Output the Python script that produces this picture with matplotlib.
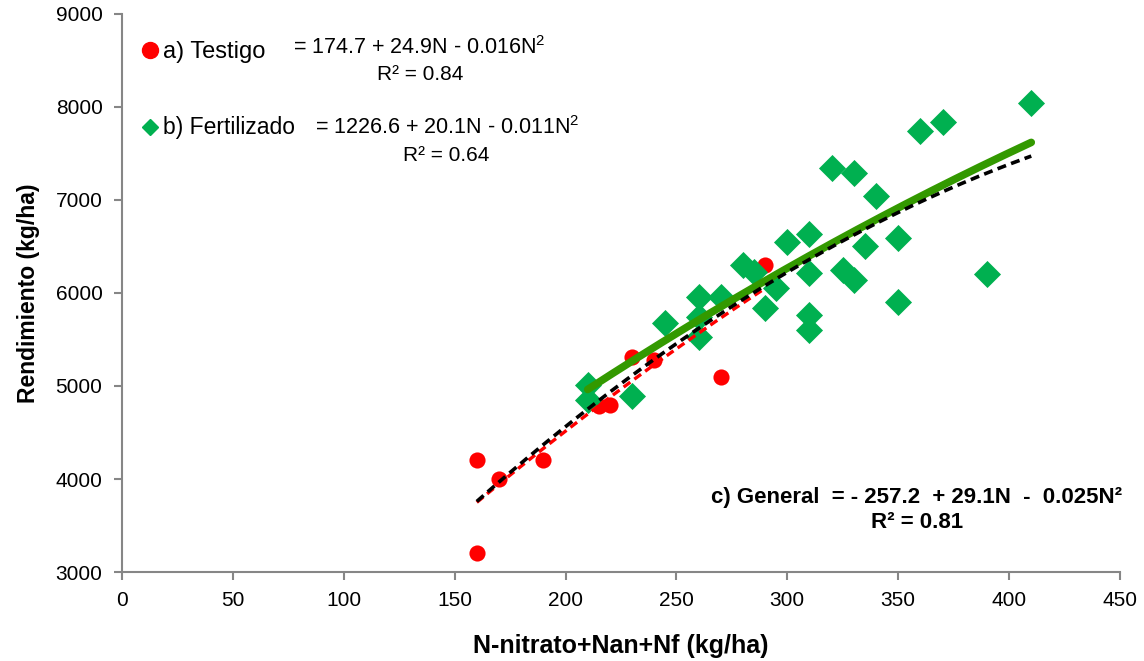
import numpy as np
import matplotlib.pyplot as plt

plt.rcParams['font.family'] = ['Liberation Sans', 'DejaVu Sans']
plt.rcParams['mathtext.default'] = 'regular'

# a) Testigo
n_test = [160, 160, 170, 190, 215, 220, 230, 240, 270, 290]
y_test = [4200, 3200, 4000, 4200, 4780, 4800, 5310, 5280, 5100, 6300]

# b) Fertilizado
n_fert = [410, 370, 360, 320, 330, 340, 310, 300, 350, 335,
          280, 285, 310, 325, 330, 390, 295, 260, 270, 290,
          350, 310, 310, 245, 260, 260, 210, 210, 230]
y_fert = [8040, 7840, 7740, 7340, 7290, 7040, 6630, 6545, 6595, 6510,
          6300, 6220, 6210, 6250, 6140, 6200, 6050, 5960, 5960, 5835,
          5900, 5760, 5600, 5680, 5740, 5530, 5010, 4850, 4890]

# coeficientes de las curvas (a + bN + cN^2) y rango
coef_test = (174.7, 24.9, -0.016)
coef_fert = (1226.6, 20.1, -0.011)
coef_gen = (-257.2, 29.1, -0.025)
rng_test = (160, 290)
rng_fert = (210, 410)
rng_gen = (160, 410)


def curva(coef, rng):
    n = np.linspace(rng[0], rng[1], 200)
    return n, coef[0] + coef[1] * n + coef[2] * n**2


fig = plt.figure(figsize=(11.44, 6.61), dpi=100)
ax = fig.add_axes([0.1066, 0.1346, 0.8724, 0.8444])

ax.scatter(n_test, y_test, s=135, marker='o', color='#FF0000', zorder=2, linewidths=0)
ax.scatter(n_fert, y_fert, s=190, marker='D', color='#00B050', zorder=2, linewidths=0)

x, y = curva(coef_test, rng_test)
ax.plot(x, y, color='#FF0000', lw=2.4, ls=(0, (2.5, 1.5)), zorder=3)
x, y = curva(coef_fert, rng_fert)
ax.plot(x, y, color='#339900', lw=5.5, solid_capstyle='round', zorder=4)
x, y = curva(coef_gen, rng_gen)
ax.plot(x, y, color='black', lw=2.6, ls=(0, (2.5, 1.5)), zorder=5)

ax.set_xlim(0, 450)
ax.set_ylim(3000, 9000)
ax.set_xticks(np.arange(0, 451, 50))
ax.set_yticks(np.arange(3000, 9001, 1000))
for s in ['top', 'right']:
    ax.spines[s].set_visible(False)
for s in ['left', 'bottom']:
    ax.spines[s].set_color('#868686')
    ax.spines[s].set_linewidth(1.5)
ax.tick_params(direction='out', length=6, width=1.5, color='#868686',
               labelsize=15, pad=8)
ax.set_xlabel('N-nitrato+Nan+Nf (kg/ha)', fontsize=18, fontweight='bold', labelpad=17)
ax.set_ylabel('Rendimiento (kg/ha)', fontsize=16.5, fontweight='bold', labelpad=11)

# leyenda con ecuaciones
ax.plot([0.028], [0.935], 'o', ms=11.5, color='#FF0000', transform=ax.transAxes, clip_on=False)
ax.text(0.041, 0.932, 'a) Testigo', fontsize=17, va='center', transform=ax.transAxes)
ax.text(0.171, 0.939, '= 174.7 + 24.9N - 0.016N$^2$', fontsize=15.5, va='center',
        transform=ax.transAxes)
ax.text(0.2986, 0.891, 'R² = 0.84', fontsize=15, va='center', ha='center', transform=ax.transAxes)

ax.plot([0.028], [0.7975], 'D', ms=8, color='#00B050', transform=ax.transAxes, clip_on=False)
ax.text(0.041, 0.7957, 'b) Fertilizado', fontsize=16.5, va='center', transform=ax.transAxes)
ax.text(0.193, 0.7957, '= 1226.6 + 20.1N - 0.011N$^2$', fontsize=15.5, va='center',
        transform=ax.transAxes)
ax.text(0.325, 0.747, 'R² = 0.64', fontsize=15, va='center', ha='center', transform=ax.transAxes)

ax.text(1.002, 0.134, 'c) General  = - 257.2  + 29.1N  -  0.025N²', fontsize=16,
        fontweight='bold', va='center', ha='right', transform=ax.transAxes)
ax.text(0.797, 0.0896, 'R² = 0.81', fontsize=16, fontweight='bold', va='center', ha='center',
        transform=ax.transAxes)

fig.savefig('out.png', dpi=100)
